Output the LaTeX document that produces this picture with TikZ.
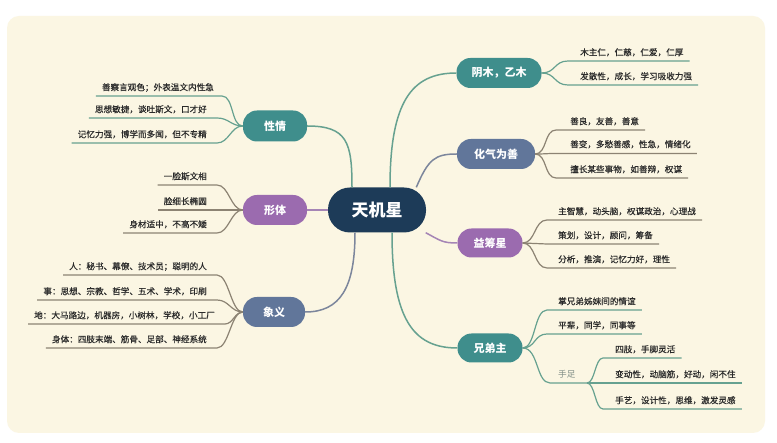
\documentclass[tikz,border=0pt]{standalone}
\usepackage{fontspec}
\setmainfont{Noto Sans CJK SC}
\newfontfamily\leaffont[FakeBold=0.5]{Noto Sans CJK SC}
\usetikzlibrary{calc}
\definecolor{bgc}{HTML}{FBF6E3}
\definecolor{navy}{HTML}{1D3B58}
\definecolor{teal}{HTML}{3F8E8C}
\definecolor{slate}{HTML}{61769A}
\definecolor{purp}{HTML}{9B6BAF}
\definecolor{grn}{HTML}{66A190}
\definecolor{gry}{HTML}{8C8373}
\definecolor{slt}{HTML}{7C869C}
\definecolor{ppl}{HTML}{A585B5}
\definecolor{txt}{HTML}{2A2A2A}
\definecolor{sub}{HTML}{7E8C85}
\begin{document}
\begin{tikzpicture}[x=1pt,y=-1pt,
  topic/.style={rounded corners=14pt, text=white, font=\bfseries\fontsize{11}{13}\selectfont, inner sep=0pt, minimum height=30pt},
  leaf/.style={font=\leaffont\fontsize{8.6}{10}\selectfont, text=txt, inner sep=0pt},
  conn/.style={line width=1.5pt},
  ll/.style={line width=1.2pt}]
\useasboundingbox (0,0) rectangle (777,443);
\fill[white] (0,0) rectangle (777,443);
\fill[bgc, rounded corners=12pt] (7,16) rectangle (765,433);

% central
\node[fill=navy, rounded corners=22pt, text=white, font=\bfseries\fontsize{17}{19}\selectfont, minimum width=98pt, minimum height=45pt, inner sep=0pt] (T) at (377,210) {天机星};

% topics
\node[topic, fill=teal, minimum width=85pt] (A) at (499,73) {阴木，乙木};
\node[topic, fill=slate, minimum width=78pt] (B) at (496,154) {化气为善};
\node[topic, fill=purp, minimum width=65pt, minimum height=29pt] (C) at (490,243) {益筹星};
\node[topic, fill=teal, minimum width=65pt, minimum height=29pt] (D) at (490,348) {兄弟主};
\node[topic, fill=teal, minimum width=64pt, minimum height=31pt] (L1) at (275,126) {性情};
\node[topic, fill=purp, minimum width=64pt] (L2) at (275,210) {形体};
\node[topic, fill=slate, minimum width=62pt] (L3) at (274,312) {象义};

% center connectors
\draw[conn, grn] ([xshift=-25pt]T.north) .. controls +(0,-45) and +(40,0) .. (L1.east);
\draw[conn, ppl] (T.west) -- (L2.east);
\draw[conn, slt] ([xshift=-22pt]T.south) .. controls +(0,55) and +(35,0) .. (L3.east);
\draw[conn, grn] ([xshift=13pt]T.north) .. controls +(0,-85) and +(-45,0) .. (A.west);
\draw[conn, slt] (T.30) .. controls +(12,-28) and +(-22,0) .. (B.west);
\draw[conn, ppl] (T.-25) .. controls +(15,8) and +(-15,0) .. (C.west);
\draw[conn, grn] ([xshift=15pt]T.south) .. controls +(0,85) and +(-45,0) .. (D.west);

% ---------- right leaves ----------
% A
\node[leaf, anchor=base west] (a1) at (580,55.5) {木主仁，仁慈，仁爱，仁厚};
\node[leaf, anchor=base west] (a2) at (580,79.5) {发散性，成长，学习吸收力强};
\coordinate (a1s) at (568,61);
\coordinate (a2s) at (568,85);
\draw[ll, grn] (A.east) .. controls +(14,0) and +(-14,0) .. (a1s) -- ([xshift=6pt]a1.east |- a1s);
\draw[ll, grn] (A.east) .. controls +(14,0) and +(-14,0) .. (a2s) -- ([xshift=6pt]a2.east |- a2s);
% B
\node[leaf, anchor=base west] (b1) at (570,124.5) {善良，友善，善意};
\node[leaf, anchor=base west] (b2) at (570,147.5) {善变，多愁善感，性急，情绪化};
\node[leaf, anchor=base west] (b3) at (570,172.5) {擅长某些事物，如善辩，权谋};
\coordinate (b1s) at (556,130);
\coordinate (b2s) at (556,153.5);
\coordinate (b3s) at (556,178);
\draw[ll, gry] (B.east) .. controls +(12,0) and +(-12,0) .. (b1s) -- ([xshift=6pt]b1.east |- b1s);
\draw[ll, gry] (B.east) .. controls +(12,0) and +(-12,0) .. (b2s) -- ([xshift=6pt]b2.east |- b2s);
\draw[ll, gry] (B.east) .. controls +(12,0) and +(-12,0) .. (b3s) -- ([xshift=6pt]b3.east |- b3s);
% C
\node[leaf, anchor=base west] (c1) at (558,214.5) {主智慧，动头脑，权谋政治，心理战};
\node[leaf, anchor=base west] (c2) at (558,238.5) {策划，设计，顾问，筹备};
\node[leaf, anchor=base west] (c3) at (558,262.5) {分析，推演，记忆力好，理性};
\coordinate (c1s) at (547,220);
\coordinate (c2s) at (547,244);
\coordinate (c3s) at (547,268);
\draw[ll, gry] (C.east) .. controls +(13,0) and +(-13,0) .. (c1s) -- ([xshift=6pt]c1.east |- c1s);
\draw[ll, gry] (C.east) .. controls +(13,0) and +(-13,0) .. (c2s) -- ([xshift=6pt]c2.east |- c2s);
\draw[ll, gry] (C.east) .. controls +(13,0) and +(-13,0) .. (c3s) -- ([xshift=6pt]c3.east |- c3s);
% D
\node[leaf, anchor=base west] (d1) at (558,304.5) {掌兄弟姊妹间的情谊};
\node[leaf, anchor=base west] (d2) at (558,328.5) {平辈，同学，同事等};
\coordinate (d1s) at (547,310);
\coordinate (d2s) at (547,334);
\draw[ll, grn] (D.east) .. controls +(13,0) and +(-13,0) .. (d1s) -- ([xshift=6pt]d1.east |- d1s);
\draw[ll, grn] (D.east) .. controls +(13,0) and +(-13,0) .. (d2s) -- ([xshift=6pt]d2.east |- d2s);
\node[font=\fontsize{8.6}{10}\selectfont, inner sep=0pt, text=sub, anchor=base west] (sz) at (558,378) {手足};
\coordinate (szs) at (550,383);
\coordinate (J) at (587,383);
\draw[ll, grn] (D.east) .. controls +(16,0) and +(-14,0) .. (szs) -- (J);
\node[leaf, anchor=base west] (e1) at (615,352.5) {四肢，手脚灵活};
\node[leaf, anchor=base west] (e2) at (615,377.5) {变动性，动脑筋，好动，闲不住};
\node[leaf, anchor=base west] (e3) at (615,403.5) {手艺，设计性，思维，激发灵感};
\coordinate (e1s) at (603,358);
\coordinate (e3s) at (603,409);
\draw[ll, grn] (J) .. controls +(8,0) and +(-8,0) .. (e1s) -- ([xshift=6pt]e1.east |- e1s);
\draw[ll, grn] (J) -- ([xshift=6pt]e2.east |- J);
\draw[ll, grn] (J) .. controls +(8,0) and +(-8,0) .. (e3s) -- ([xshift=6pt]e3.east |- e3s);

% ---------- left leaves ----------
% L1
\node[leaf, anchor=base east] (p1) at (214,90.5) {善察言观色；外表温文内性急};
\node[leaf, anchor=base east] (p2) at (207,112.5) {思想敏捷，谈吐斯文，口才好};
\node[leaf, anchor=base east] (p3) at (207,137.5) {记忆力强，博学而多闻，但不专精};
\coordinate (p1s) at (222,96);
\coordinate (p2s) at (217,118);
\coordinate (p3s) at (217,143);
\draw[ll, grn] (L1.west) .. controls +(-12,0) and +(12,0) .. (p1s) -- ([xshift=-6pt]p1.west |- p1s);
\draw[ll, grn] (L1.west) .. controls +(-12,0) and +(12,0) .. (p2s) -- ([xshift=-6pt]p2.west |- p2s);
\draw[ll, grn] (L1.west) .. controls +(-12,0) and +(12,0) .. (p3s) -- ([xshift=-6pt]p3.west |- p3s);
% L2
\node[leaf, anchor=base east] (q1) at (207,179.5) {一脸斯文相};
\node[leaf, anchor=base east] (q2) at (207,204.5) {脸细长椭圆};
\node[leaf, anchor=base east] (q3) at (207,227.5) {身材适中，不高不矮};
\coordinate (q1s) at (217,185);
\coordinate (q3s) at (217,233);
\draw[ll, gry] (L2.west) .. controls +(-12,0) and +(12,0) .. (q1s) -- ([xshift=-6pt]q1.west |- q1s);
\draw[ll, gry] (L2.west) -- ([xshift=-6pt]q2.west |- L2.west);
\draw[ll, gry] (L2.west) .. controls +(-12,0) and +(12,0) .. (q3s) -- ([xshift=-6pt]q3.west |- q3s);
% L3
\node[leaf, anchor=base east] (r1) at (207,269.5) {人：秘书、幕僚、技术员；聪明的人};
\node[leaf, anchor=base east] (r2) at (207,294.5) {事：思想、宗教、哲学、五术、学术，印刷};
\node[leaf, anchor=base east] (r3) at (215,318.5) {地：大马路边，机器房，小树林，学校，小工厂};
\node[leaf, anchor=base east] (r4) at (207,342.5) {身体：四肢末端、筋骨、足部、神经系统};
\coordinate (r1s) at (217,275);
\coordinate (r2s) at (217,300);
\coordinate (r3s) at (225,324);
\coordinate (r4s) at (217,348);
\draw[ll, gry] (L3.west) .. controls +(-12,0) and +(12,0) .. (r1s) -- ([xshift=-6pt]r1.west |- r1s);
\draw[ll, gry] (L3.west) .. controls +(-12,0) and +(12,0) .. (r2s) -- ([xshift=-6pt]r2.west |- r2s);
\draw[ll, gry] (L3.west) .. controls +(-8,0) and +(8,0) .. (r3s) -- ([xshift=-6pt]r3.west |- r3s);
\draw[ll, gry] (L3.west) .. controls +(-12,0) and +(12,0) .. (r4s) -- ([xshift=-6pt]r4.west |- r4s);
\end{tikzpicture}
\end{document}
